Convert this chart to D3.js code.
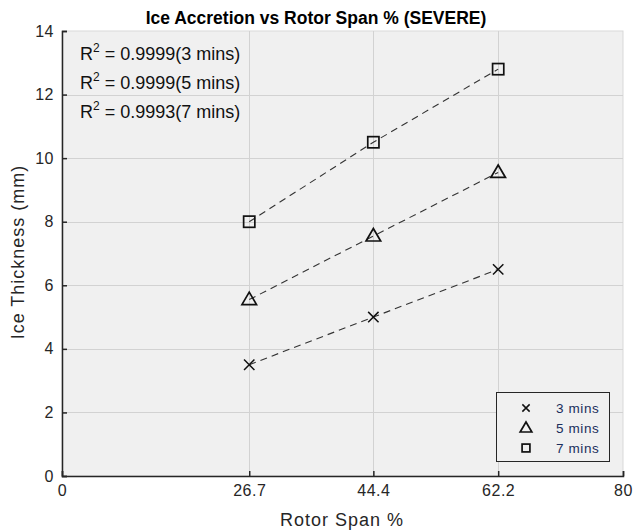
<!DOCTYPE html>
<html>
<head>
<meta charset="utf-8">
<script src="https://cdn.jsdelivr.net/npm/d3@7"></script>
<style>
  html, body { margin: 0; padding: 0; background: #ffffff; }
  svg text { font-family: "Liberation Sans", Arial, sans-serif; }
</style>
</head>
<body>
<svg id="chart" width="634" height="532"></svg>
<script>
// Rotor span stations (%) and ice thickness (mm) per exposure time
const spanTicks = [0, 26.7, 44.4, 62.2, 80];
const span = [26.7, 44.4, 62.2];
const thickness3 = [3.5, 5.0, 6.5];
const thickness5 = [5.55, 7.55, 9.55];
const thickness7 = [8.0, 10.5, 12.8];
const seriesNames = ["3 mins", "5 mins", "7 mins"];
const markerKinds = ["cross", "triangle", "square"];
const yTicks = [0, 2, 4, 6, 8, 10, 12, 14];
const r2Labels = [
  { r2: "0.9999", name: "3 mins" },
  { r2: "0.9999", name: "5 mins" },
  { r2: "0.9993", name: "7 mins" }
];

const svg = d3.select("#chart");
const m = { left: 62, right: 623, top: 31, bottom: 476 };

const x = d3.scaleLinear().domain([0, 80]).range([m.left, m.right]);
const y = d3.scaleLinear().domain([0, 14]).range([m.bottom, m.top]);

// plot background
svg.append("rect")
  .attr("x", m.left).attr("y", m.top)
  .attr("width", m.right - m.left).attr("height", m.bottom - m.top)
  .attr("fill", "#f0f0f0")
  .attr("stroke", "#d9d9d9").attr("stroke-width", 1);

// grid
const grid = svg.append("g").attr("stroke", "#d2d2d2").attr("stroke-width", 1);
grid.selectAll("line.gx").data(spanTicks.slice(1, -1)).join("line")
  .attr("x1", d => Math.round(x(d)) + 0.5).attr("x2", d => Math.round(x(d)) + 0.5)
  .attr("y1", m.top).attr("y2", m.bottom);
grid.selectAll("line.gy").data(yTicks.slice(1, -1)).join("line")
  .attr("y1", d => Math.round(y(d)) + 0.5).attr("y2", d => Math.round(y(d)) + 0.5)
  .attr("x1", m.left).attr("x2", m.right);

// axes with inward ticks
const xAxis = d3.axisBottom(x).tickValues(spanTicks).tickSize(-5).tickPadding(9)
  .tickFormat(d => d === 0 || d === 80 ? d3.format("d")(d) : d3.format(".1f")(d));
const gx = svg.append("g").attr("transform", `translate(0,${m.bottom})`).call(xAxis);
const yAxis = d3.axisLeft(y).tickValues(yTicks).tickSize(-5).tickPadding(8);
const gy = svg.append("g").attr("transform", `translate(${m.left},0)`).call(yAxis);
[gx, gy].forEach(g => {
  g.select(".domain").attr("stroke", "#262626").attr("stroke-width", 1.5);
  g.selectAll(".tick line").attr("stroke", "#262626").attr("stroke-width", 1.5);
  g.selectAll(".tick text").attr("fill", "#262626").attr("font-size", 16)
    .attr("letter-spacing", 0.5)
    .style("font-family", "'Liberation Sans', Arial, sans-serif");
});

// title and axis labels
svg.append("text").attr("x", 316).attr("y", 24).attr("text-anchor", "middle")
  .attr("font-size", 17.5).attr("font-weight", "bold").attr("fill", "#000")
  .text("Ice Accretion vs Rotor Span % (SEVERE)");
svg.append("text").attr("x", 342).attr("y", 526).attr("text-anchor", "middle")
  .attr("font-size", 18).attr("letter-spacing", 1).attr("fill", "#262626").text("Rotor Span %");
svg.append("text").attr("transform", "translate(24,252) rotate(-90)")
  .attr("text-anchor", "middle").attr("font-size", 18).attr("letter-spacing", 1).attr("fill", "#262626")
  .text("Ice Thickness (mm)");

// series: dashed trend line + open markers
const allSeries = [thickness3, thickness5, thickness7];
const line = d3.line().x((d, i) => x(span[i])).y(d => y(d));

function drawMarker(g, kind, cx, cy, s) {
  if (kind === "cross") {
    const h = 5.2 * s;
    g.append("path").attr("d", `M${cx - h},${cy - h}L${cx + h},${cy + h}M${cx - h},${cy + h}L${cx + h},${cy - h}`)
      .attr("stroke", "#111").attr("stroke-width", 1.5).attr("fill", "none");
  } else if (kind === "triangle") {
    const w = 7.3 * s, ht = 12.5 * s;
    g.append("path").attr("d", `M${cx},${cy - ht * 0.6}L${cx + w},${cy + ht * 0.4}L${cx - w},${cy + ht * 0.4}Z`)
      .attr("stroke", "#111").attr("stroke-width", 1.7).attr("fill", "none");
  } else {
    const h = 5.6 * s;
    g.append("rect").attr("x", cx - h).attr("y", cy - h).attr("width", 2 * h).attr("height", 2 * h)
      .attr("stroke", "#111").attr("stroke-width", 1.7).attr("fill", "none");
  }
}

allSeries.forEach((vals, k) => {
  svg.append("path").datum(vals).attr("d", line)
    .attr("fill", "none").attr("stroke", "#333").attr("stroke-width", 1.1)
    .attr("stroke-dasharray", "7,5");
  const g = svg.append("g");
  vals.forEach((v, i) => drawMarker(g, markerKinds[k], x(span[i]), y(v), 1));
});

// R² annotations
const ann = svg.append("g").attr("fill", "#111").attr("font-size", 18);
r2Labels.forEach((d, i) => {
  const t = ann.append("text").attr("x", 80).attr("y", 60 + i * 29);
  t.append("tspan").text("R");
  t.append("tspan").attr("dy", -8).attr("font-size", 12).text("2");
  t.append("tspan").attr("dy", 8).text(` = ${d.r2}(${d.name})`);
});

// legend
const lg = svg.append("g");
lg.append("rect").attr("x", 496.5).attr("y", 392.5).attr("width", 113).attr("height", 69)
  .attr("fill", "#f0f0f0").attr("stroke", "#262626").attr("stroke-width", 1);
seriesNames.forEach((name, k) => {
  const cy = 408 + k * 20;
  drawMarker(lg, markerKinds[k], 526, cy, k === 0 ? 0.7 : (k === 1 ? 0.8 : 0.7));
  lg.append("text").attr("x", 556).attr("y", cy + 5).attr("font-size", 13.5)
    .attr("letter-spacing", 0.6).attr("fill", "#1a2d5c").text(name);
});
</script>
</body>
</html>
